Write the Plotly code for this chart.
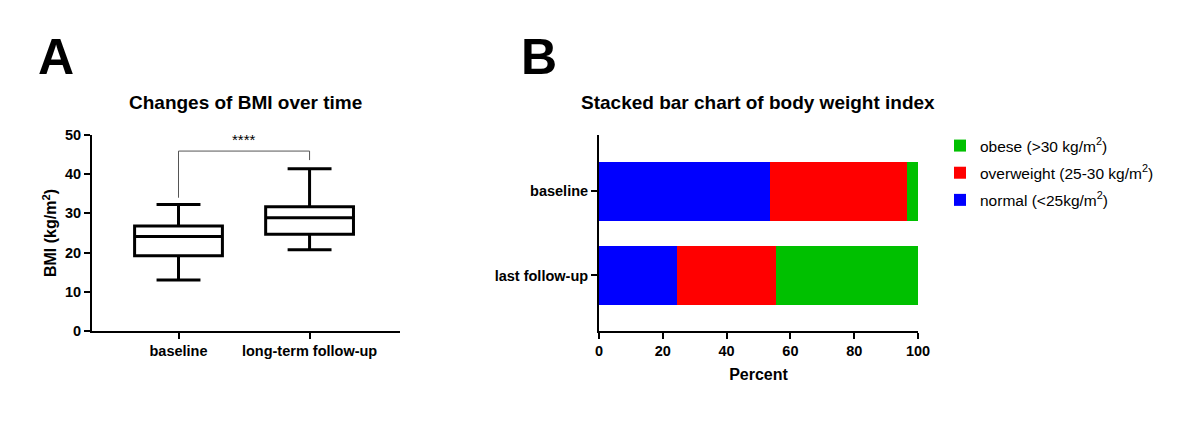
import plotly.graph_objects as go

# ---- Panel A data (box summaries, BMI kg/m^2) ----
box_cats = ["baseline", "long-term follow-up"]
box_min = [13.0, 20.7]
box_q1 = [19.2, 24.7]
box_median = [24.1, 28.9]
box_q3 = [26.8, 31.7]
box_max = [32.3, 41.4]
sig_label = "****"

# ---- Panel B data (percent) ----
bar_cats = ["baseline", "last follow-up"]
normal = [53.6, 24.5]
overweight = [42.9, 31.0]
obese = [3.5, 44.5]
x_ticks_b = [0, 20, 40, 60, 80, 100]
y_ticks_a = [0, 10, 20, 30, 40, 50]

FONT = "Liberation Sans"
W, H = 1200, 425
OFF = 8  # page body margin offset


def px_x(p):
    return (p - OFF) / W


def px_y(p):
    return 1 - (p - OFF) / H


fig = go.Figure()

fig.add_trace(go.Box(
    x=box_cats, q1=box_q1, median=box_median, q3=box_q3,
    lowerfence=box_min, upperfence=box_max,
    fillcolor="white", line=dict(color="black", width=3),
    whiskerwidth=0.5, width=0.67, boxpoints=False,
    xaxis="x", yaxis="y", showlegend=False, hoverinfo="skip",
))

bar_series = [
    ("normal (<25kg/m<sup>2</sup>)", normal, "#0000FF", 3),
    ("overweight (25-30 kg/m<sup>2</sup>)", overweight, "#FF0000", 2),
    ("obese (>30 kg/m<sup>2</sup>)", obese, "#00C000", 1),
]
for name, vals, col, rank in bar_series:
    fig.add_trace(go.Bar(y=bar_cats, x=vals, orientation="h", name=name, legendgroup=name,
                         legendrank=rank,
                         marker=dict(color=col, line=dict(width=0)), width=0.7,
                         xaxis="x2", yaxis="y2"))

tickfont = dict(family=FONT, size=14.5, color="black", weight="bold")
titlefont = dict(family=FONT, size=16, color="black", weight="bold")
ydom = [px_y(331), px_y(135)]
axis_common = dict(showline=True, linecolor="black", linewidth=2, ticks="outside",
                   ticklen=6, tickwidth=2, tickcolor="black", tickfont=tickfont,
                   showgrid=False, zeroline=False, automargin=False)

fig.update_layout(
    width=W, height=H, margin=dict(l=0, r=0, t=0, b=0, autoexpand=False),
    paper_bgcolor="white", plot_bgcolor="white",
    barmode="stack", showlegend=True,
    legend=dict(x=px_x(940), y=px_y(129), xanchor="left", yanchor="top",
                traceorder="grouped", tracegroupgap=4,
                font=dict(family=FONT, size=15.5, color="black"),
                itemwidth=30, bgcolor="rgba(0,0,0,0)"),
    xaxis=dict(domain=[px_x(92), px_x(400)], range=[-0.66, 1.69], anchor="y", **axis_common),
    yaxis=dict(domain=ydom, range=[0, 50], anchor="x", tickvals=y_ticks_a,
               title=dict(text="BMI (kg/m<sup>2</sup>)", font=titlefont, standoff=4),
               **axis_common),
    xaxis2=dict(domain=[px_x(599), px_x(918)], range=[0, 100], anchor="y2",
                tickvals=x_ticks_b,
                title=dict(text="Percent", font=titlefont, standoff=10), **axis_common),
    yaxis2=dict(domain=ydom, range=[1.66, -0.67], anchor="x2", type="category",
                **axis_common),
)

# significance bracket
br_low_left = box_max[0] + 1.7
br_low_right = box_max[1] + 2.2
br_top = 45.9
line_style = dict(color="#555555", width=1)
fig.add_shape(type="line", xref="x", yref="y", x0=box_cats[0], x1=box_cats[0], y0=br_low_left, y1=br_top, line=line_style)
fig.add_shape(type="line", xref="x", yref="y", x0=box_cats[0], x1=box_cats[1], y0=br_top, y1=br_top, line=line_style)
fig.add_shape(type="line", xref="x", yref="y", x0=box_cats[1], x1=box_cats[1], y0=br_low_right, y1=br_top, line=line_style)
fig.add_annotation(x=0.5, y=br_top, xref="x", yref="y", text=sig_label, showarrow=False,
                   xanchor="center", yanchor="bottom", yshift=1,
                   font=dict(family=FONT, size=15, color="black"))

# panel titles and letters
fig.add_annotation(x=px_x(245), y=px_y(103), xref="paper", yref="paper",
                   xanchor="center", yanchor="middle",
                   text="Changes of BMI over time", showarrow=False,
                   font=dict(family=FONT, size=19, color="black", weight="bold"))
fig.add_annotation(x=px_x(758), y=px_y(103), xref="paper", yref="paper",
                   xanchor="center", yanchor="middle",
                   text="Stacked bar chart of body weight index", showarrow=False,
                   font=dict(family=FONT, size=19, color="black", weight="bold"))
fig.add_annotation(x=px_x(36), y=px_y(57), xref="paper", yref="paper",
                   xanchor="left", yanchor="middle",
                   text="A", showarrow=False,
                   font=dict(family=FONT, size=50, color="black", weight="bold"))
fig.add_annotation(x=px_x(519), y=px_y(57), xref="paper", yref="paper",
                   xanchor="left", yanchor="middle",
                   text="B", showarrow=False,
                   font=dict(family=FONT, size=50, color="black", weight="bold"))

fig.write_html("out.html")
